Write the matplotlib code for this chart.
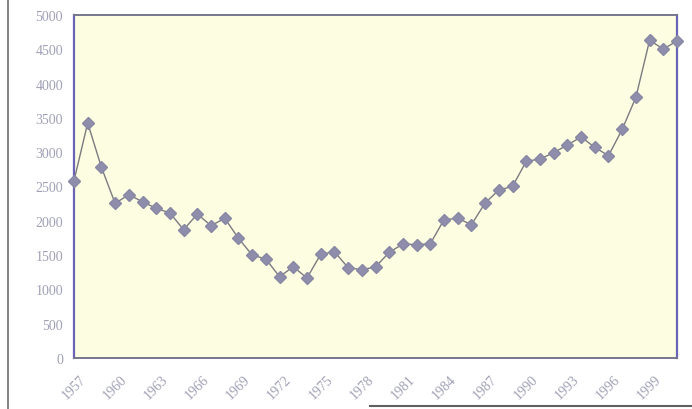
import matplotlib
matplotlib.use("Agg")
import matplotlib.pyplot as plt
from matplotlib.lines import Line2D

years = list(range(1957, 2002))
values = [2585, 3426, 2780, 2255, 2380, 2278, 2182, 2114, 1870, 2099,
          1929, 2036, 1745, 1501, 1443, 1185, 1331, 1166, 1511, 1550,
          1317, 1287, 1327, 1540, 1662, 1652, 1667, 2016, 2036, 1944,
          2260, 2449, 2502, 2867, 2901, 2993, 3105, 3222, 3071, 2949,
          3333, 3800, 4631, 4504, 4621]
xtick_years = list(range(1957, 2000, 3))
yticks = list(range(0, 5001, 500))

W, H = 692, 410
fig = plt.figure(figsize=(W / 100, H / 100), dpi=100)
fig.patch.set_facecolor("white")

ax = fig.add_axes([74 / W, (H - 359) / H, (677 - 74) / W, (359 - 16) / H])
ax.set_facecolor("#fdfde2")

ax.plot(years, values, color="#7a7a80", linewidth=1.0, marker="D",
        markersize=6, markerfacecolor="#8e8eac", markeredgecolor="#8888a4",
        clip_on=False, zorder=3)

ax.set_xlim(1957, 2001)
ax.set_ylim(0, 5000)
ax.set_yticks(yticks)
ax.set_yticklabels([str(v) for v in yticks], fontfamily="Liberation Serif",
                   fontsize=10, color="#a0a0b6")
ax.set_xticks(xtick_years)
ax.set_xticklabels([str(y) for y in xtick_years], fontfamily="Liberation Serif",
                   fontsize=10, color="#a0a0b6", rotation=45, ha="center",
                   va="top")
ax.tick_params(axis="y", length=0, pad=8)
ax.tick_params(axis="x", length=0, pad=10)

for side in ["left", "right"]:
    ax.spines[side].set_color("#6a64b8")
    ax.spines[side].set_linewidth(1.6)
for side in ["top", "bottom"]:
    ax.spines[side].set_color("#76768e")
    ax.spines[side].set_linewidth(1.4)

# scan frame lines
fig.add_artist(Line2D([8 / W, 8 / W], [0, 1], color="#707070", linewidth=1.2))
fig.add_artist(Line2D([370 / W, 1], [3 / H, 3 / H], color="#606060", linewidth=1.5))

fig.savefig("out.png", dpi=100, facecolor=fig.get_facecolor())
